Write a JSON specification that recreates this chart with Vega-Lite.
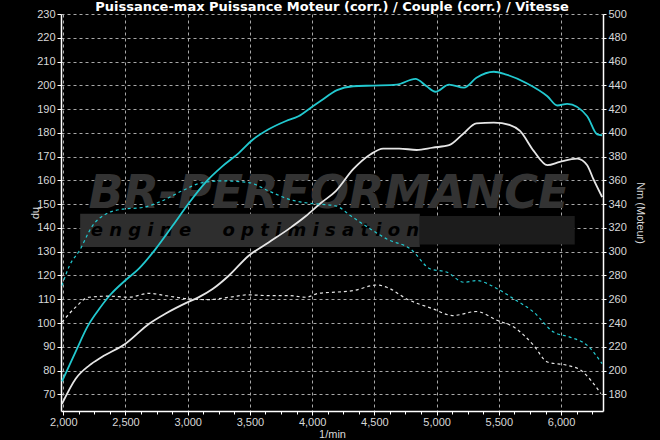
{
  "$schema": "https://vega.github.io/schema/vega-lite/v6.json",
  "width": 542,
  "height": 397,
  "autosize": {"type": "none"},
  "padding": {"left": 61, "top": 14, "right": 57, "bottom": 29},
  "background": "#000000",
  "title": {
    "text": "Puissance-max Puissance Moteur (corr.) / Couple (corr.) / Vitesse",
    "color": "#ffffff",
    "font": "DejaVu Sans",
    "fontSize": 13,
    "fontWeight": "bold",
    "anchor": "middle",
    "offset": -6
  },
  "config": {
    "view": {"stroke": null},
    "axis": {
      "labelColor": "#d8d8d8",
      "labelFont": "Liberation Sans",
      "labelFontSize": 11,
      "titleColor": "#d8d8d8",
      "titleFont": "Liberation Sans",
      "titleFontSize": 11,
      "titleFontWeight": "normal",
      "domainColor": "#ffffff",
      "domainWidth": 1.5,
      "tickColor": "#ffffff",
      "gridColor": "#a8a8a8",
      "gridDash": [3, 3],
      "gridWidth": 1
    }
  },
  "datasets": {
    "power": [
      {"rpm": 1990, "hp": 75.5, "run": "Puissance-max"},
      {"rpm": 2100, "hp": 88, "run": "Puissance-max"},
      {"rpm": 2200, "hp": 99, "run": "Puissance-max"},
      {"rpm": 2290, "hp": 106, "run": "Puissance-max"},
      {"rpm": 2380, "hp": 112, "run": "Puissance-max"},
      {"rpm": 2500, "hp": 118, "run": "Puissance-max"},
      {"rpm": 2610, "hp": 123, "run": "Puissance-max"},
      {"rpm": 2740, "hp": 131, "run": "Puissance-max"},
      {"rpm": 2880, "hp": 141, "run": "Puissance-max"},
      {"rpm": 3010, "hp": 150.5, "run": "Puissance-max"},
      {"rpm": 3140, "hp": 159, "run": "Puissance-max"},
      {"rpm": 3280, "hp": 166, "run": "Puissance-max"},
      {"rpm": 3410, "hp": 171.5, "run": "Puissance-max"},
      {"rpm": 3520, "hp": 177, "run": "Puissance-max"},
      {"rpm": 3650, "hp": 181.5, "run": "Puissance-max"},
      {"rpm": 3790, "hp": 185, "run": "Puissance-max"},
      {"rpm": 3890, "hp": 187, "run": "Puissance-max"},
      {"rpm": 4000, "hp": 191, "run": "Puissance-max"},
      {"rpm": 4070, "hp": 193.5, "run": "Puissance-max"},
      {"rpm": 4200, "hp": 198, "run": "Puissance-max"},
      {"rpm": 4330, "hp": 199.6, "run": "Puissance-max"},
      {"rpm": 4490, "hp": 199.9, "run": "Puissance-max"},
      {"rpm": 4680, "hp": 200.3, "run": "Puissance-max"},
      {"rpm": 4830, "hp": 202.7, "run": "Puissance-max"},
      {"rpm": 4920, "hp": 199.6, "run": "Puissance-max"},
      {"rpm": 4990, "hp": 197.3, "run": "Puissance-max"},
      {"rpm": 5100, "hp": 200.3, "run": "Puissance-max"},
      {"rpm": 5220, "hp": 199, "run": "Puissance-max"},
      {"rpm": 5320, "hp": 203.2, "run": "Puissance-max"},
      {"rpm": 5460, "hp": 205.7, "run": "Puissance-max"},
      {"rpm": 5560, "hp": 204.5, "run": "Puissance-max"},
      {"rpm": 5720, "hp": 201, "run": "Puissance-max"},
      {"rpm": 5890, "hp": 195.4, "run": "Puissance-max"},
      {"rpm": 5970, "hp": 191.5, "run": "Puissance-max"},
      {"rpm": 6050, "hp": 192.2, "run": "Puissance-max"},
      {"rpm": 6210, "hp": 187, "run": "Puissance-max"},
      {"rpm": 6290, "hp": 179.4, "run": "Puissance-max"},
      {"rpm": 6330, "hp": 179, "run": "Puissance-max"},
      {"rpm": 1990, "hp": 66, "run": "Puissance Moteur"},
      {"rpm": 2100, "hp": 76.6, "run": "Puissance Moteur"},
      {"rpm": 2210, "hp": 82.2, "run": "Puissance Moteur"},
      {"rpm": 2310, "hp": 85.7, "run": "Puissance Moteur"},
      {"rpm": 2500, "hp": 91.3, "run": "Puissance Moteur"},
      {"rpm": 2690, "hp": 99.7, "run": "Puissance Moteur"},
      {"rpm": 2820, "hp": 103.9, "run": "Puissance Moteur"},
      {"rpm": 3010, "hp": 109, "run": "Puissance Moteur"},
      {"rpm": 3090, "hp": 110.9, "run": "Puissance Moteur"},
      {"rpm": 3200, "hp": 114.3, "run": "Puissance Moteur"},
      {"rpm": 3330, "hp": 119.9, "run": "Puissance Moteur"},
      {"rpm": 3490, "hp": 128.3, "run": "Puissance Moteur"},
      {"rpm": 3650, "hp": 133.9, "run": "Puissance Moteur"},
      {"rpm": 3810, "hp": 139.5, "run": "Puissance Moteur"},
      {"rpm": 3950, "hp": 145, "run": "Puissance Moteur"},
      {"rpm": 4070, "hp": 150.5, "run": "Puissance Moteur"},
      {"rpm": 4190, "hp": 155.5, "run": "Puissance Moteur"},
      {"rpm": 4330, "hp": 164.7, "run": "Puissance Moteur"},
      {"rpm": 4470, "hp": 171, "run": "Puissance Moteur"},
      {"rpm": 4570, "hp": 173.4, "run": "Puissance Moteur"},
      {"rpm": 4700, "hp": 173.4, "run": "Puissance Moteur"},
      {"rpm": 4840, "hp": 172.8, "run": "Puissance Moteur"},
      {"rpm": 4970, "hp": 173.8, "run": "Puissance Moteur"},
      {"rpm": 5100, "hp": 174.8, "run": "Puissance Moteur"},
      {"rpm": 5210, "hp": 179.4, "run": "Puissance Moteur"},
      {"rpm": 5320, "hp": 184, "run": "Puissance Moteur"},
      {"rpm": 5460, "hp": 184.3, "run": "Puissance Moteur"},
      {"rpm": 5590, "hp": 183.3, "run": "Puissance Moteur"},
      {"rpm": 5670, "hp": 180.8, "run": "Puissance Moteur"},
      {"rpm": 5780, "hp": 172.4, "run": "Puissance Moteur"},
      {"rpm": 5890, "hp": 166.4, "run": "Puissance Moteur"},
      {"rpm": 5990, "hp": 167.8, "run": "Puissance Moteur"},
      {"rpm": 6130, "hp": 169.2, "run": "Puissance Moteur"},
      {"rpm": 6210, "hp": 166.4, "run": "Puissance Moteur"},
      {"rpm": 6260, "hp": 160.5, "run": "Puissance Moteur"},
      {"rpm": 6330, "hp": 153, "run": "Puissance Moteur"}
    ],
    "torque": [
      {"rpm": 1990, "nm": 271.5, "run": "Puissance-max"},
      {"rpm": 2050, "nm": 288.3, "run": "Puissance-max"},
      {"rpm": 2130, "nm": 300.9, "run": "Puissance-max"},
      {"rpm": 2235, "nm": 321.8, "run": "Puissance-max"},
      {"rpm": 2340, "nm": 331.6, "run": "Puissance-max"},
      {"rpm": 2475, "nm": 335.8, "run": "Puissance-max"},
      {"rpm": 2635, "nm": 337.2, "run": "Puissance-max"},
      {"rpm": 2795, "nm": 342.8, "run": "Puissance-max"},
      {"rpm": 2955, "nm": 351.2, "run": "Puissance-max"},
      {"rpm": 3120, "nm": 358.2, "run": "Puissance-max"},
      {"rpm": 3280, "nm": 359.6, "run": "Puissance-max"},
      {"rpm": 3490, "nm": 358.2, "run": "Puissance-max"},
      {"rpm": 3650, "nm": 351.2, "run": "Puissance-max"},
      {"rpm": 3810, "nm": 344.2, "run": "Puissance-max"},
      {"rpm": 3970, "nm": 340.9, "run": "Puissance-max"},
      {"rpm": 4070, "nm": 340, "run": "Puissance-max"},
      {"rpm": 4190, "nm": 338.6, "run": "Puissance-max"},
      {"rpm": 4310, "nm": 330.2, "run": "Puissance-max"},
      {"rpm": 4470, "nm": 319, "run": "Puissance-max"},
      {"rpm": 4600, "nm": 310.7, "run": "Puissance-max"},
      {"rpm": 4790, "nm": 302.3, "run": "Puissance-max"},
      {"rpm": 4950, "nm": 285.5, "run": "Puissance-max"},
      {"rpm": 5085, "nm": 282.7, "run": "Puissance-max"},
      {"rpm": 5220, "nm": 274.3, "run": "Puissance-max"},
      {"rpm": 5320, "nm": 275.7, "run": "Puissance-max"},
      {"rpm": 5490, "nm": 268.7, "run": "Puissance-max"},
      {"rpm": 5620, "nm": 260.3, "run": "Puissance-max"},
      {"rpm": 5780, "nm": 249.2, "run": "Puissance-max"},
      {"rpm": 5940, "nm": 232.4, "run": "Puissance-max"},
      {"rpm": 6070, "nm": 228.2, "run": "Puissance-max"},
      {"rpm": 6210, "nm": 221.2, "run": "Puissance-max"},
      {"rpm": 6330, "nm": 205.8, "run": "Puissance-max"},
      {"rpm": 1990, "nm": 240.8, "run": "Puissance Moteur"},
      {"rpm": 2100, "nm": 253.4, "run": "Puissance Moteur"},
      {"rpm": 2205, "nm": 261.7, "run": "Puissance Moteur"},
      {"rpm": 2365, "nm": 262.6, "run": "Puissance Moteur"},
      {"rpm": 2525, "nm": 261.7, "run": "Puissance Moteur"},
      {"rpm": 2690, "nm": 265, "run": "Puissance Moteur"},
      {"rpm": 2820, "nm": 263.1, "run": "Puissance Moteur"},
      {"rpm": 3010, "nm": 260.3, "run": "Puissance Moteur"},
      {"rpm": 3170, "nm": 259.7, "run": "Puissance Moteur"},
      {"rpm": 3330, "nm": 261.7, "run": "Puissance Moteur"},
      {"rpm": 3490, "nm": 263.7, "run": "Puissance Moteur"},
      {"rpm": 3650, "nm": 263.1, "run": "Puissance Moteur"},
      {"rpm": 3810, "nm": 263.1, "run": "Puissance Moteur"},
      {"rpm": 3950, "nm": 261.7, "run": "Puissance Moteur"},
      {"rpm": 4050, "nm": 265, "run": "Puissance Moteur"},
      {"rpm": 4190, "nm": 266, "run": "Puissance Moteur"},
      {"rpm": 4330, "nm": 267.3, "run": "Puissance Moteur"},
      {"rpm": 4520, "nm": 272, "run": "Puissance Moteur"},
      {"rpm": 4600, "nm": 270.1, "run": "Puissance Moteur"},
      {"rpm": 4760, "nm": 260.3, "run": "Puissance Moteur"},
      {"rpm": 4970, "nm": 252, "run": "Puissance Moteur"},
      {"rpm": 5130, "nm": 246.3, "run": "Puissance Moteur"},
      {"rpm": 5320, "nm": 249.7, "run": "Puissance Moteur"},
      {"rpm": 5490, "nm": 242.1, "run": "Puissance Moteur"},
      {"rpm": 5620, "nm": 236.6, "run": "Puissance Moteur"},
      {"rpm": 5780, "nm": 221.2, "run": "Puissance Moteur"},
      {"rpm": 5890, "nm": 207.2, "run": "Puissance Moteur"},
      {"rpm": 6050, "nm": 204.4, "run": "Puissance Moteur"},
      {"rpm": 6160, "nm": 200.2, "run": "Puissance Moteur"},
      {"rpm": 6240, "nm": 191.8, "run": "Puissance Moteur"},
      {"rpm": 6320, "nm": 180.6, "run": "Puissance Moteur"}
    ]
  },
  "layer": [
    {
      "layer": [
        {
          "data": {"values": [{}]},
          "mark": {"type": "rect", "color": "#2e2e2e"},
          "encoding": {
            "x": {"datum": 2136, "type": "quantitative", "scale": {"domain": [1982, 6337], "nice": false, "zero": false}, "axis": {"orient": "bottom", "values": [2000, 2500, 3000, 3500, 4000, 4500, 5000, 5500, 6000], "format": ",.0f", "title": "1/min", "tickSize": 4, "labelPadding": 1, "titlePadding": 1, "grid": true, "labelFlush": false}},
            "x2": {"datum": 4865},
            "y": {"datum": 132, "type": "quantitative", "scale": {"domain": [63, 230], "nice": false, "zero": false}, "axis": {"values": [70, 80, 90, 100, 110, 120, 130, 140, 150, 160, 170, 180, 190, 200, 210, 220, 230], "title": "hp", "titleAngle": 90, "titlePadding": 6, "tickSize": 4, "labelPadding": 2, "grid": true, "labelFlush": false, "labelOverlap": false}},
            "y2": {"datum": 146}
          }
        },
        {
          "data": {"values": [{}]},
          "mark": {"type": "rect", "color": "#1c1c1c"},
          "encoding": {
            "x": {"datum": 4865, "type": "quantitative", "scale": {"domain": [1982, 6337], "nice": false, "zero": false}, "axis": {"orient": "bottom", "values": [2000, 2500, 3000, 3500, 4000, 4500, 5000, 5500, 6000], "format": ",.0f", "title": "1/min", "tickSize": 4, "labelPadding": 1, "titlePadding": 1, "grid": true, "labelFlush": false}},
            "x2": {"datum": 6110},
            "y": {"datum": 133, "type": "quantitative", "scale": {"domain": [63, 230], "nice": false, "zero": false}, "axis": {"values": [70, 80, 90, 100, 110, 120, 130, 140, 150, 160, 170, 180, 190, 200, 210, 220, 230], "title": "hp", "titleAngle": 90, "titlePadding": 6, "tickSize": 4, "labelPadding": 2, "grid": true, "labelFlush": false, "labelOverlap": false}},
            "y2": {"datum": 145}
          }
        },
        {
          "data": {"values": [{"label": "BR-PERFORMANCE"}]},
          "mark": {"type": "text", "font": "DejaVu Sans", "fontSize": 46, "fontWeight": "bold", "fontStyle": "italic", "color": "#333333", "align": "center", "baseline": "middle"},
          "encoding": {
            "text": {"field": "label"},
            "x": {"datum": 4135, "type": "quantitative", "scale": {"domain": [1982, 6337], "nice": false, "zero": false}, "axis": {"orient": "bottom", "values": [2000, 2500, 3000, 3500, 4000, 4500, 5000, 5500, 6000], "format": ",.0f", "title": "1/min", "tickSize": 4, "labelPadding": 1, "titlePadding": 1, "grid": true, "labelFlush": false}},
            "y": {"datum": 154.2, "type": "quantitative", "scale": {"domain": [63, 230], "nice": false, "zero": false}, "axis": {"values": [70, 80, 90, 100, 110, 120, 130, 140, 150, 160, 170, 180, 190, 200, 210, 220, 230], "title": "hp", "titleAngle": 90, "titlePadding": 6, "tickSize": 4, "labelPadding": 2, "grid": true, "labelFlush": false, "labelOverlap": false}}
          }
        },
        {
          "data": {"values": [{"label": "e n g i n e \u00a0 \u00a0 o p t i m i s a t i o n"}]},
          "mark": {"type": "text", "font": "DejaVu Sans", "fontSize": 18, "fontWeight": "bold", "fontStyle": "italic", "color": "#000000", "align": "center", "baseline": "middle"},
          "encoding": {
            "text": {"field": "label"},
            "x": {"datum": 3540, "type": "quantitative", "scale": {"domain": [1982, 6337], "nice": false, "zero": false}, "axis": {"orient": "bottom", "values": [2000, 2500, 3000, 3500, 4000, 4500, 5000, 5500, 6000], "format": ",.0f", "title": "1/min", "tickSize": 4, "labelPadding": 1, "titlePadding": 1, "grid": true, "labelFlush": false}},
            "y": {"datum": 138.6, "type": "quantitative", "scale": {"domain": [63, 230], "nice": false, "zero": false}, "axis": {"values": [70, 80, 90, 100, 110, 120, 130, 140, 150, 160, 170, 180, 190, 200, 210, 220, 230], "title": "hp", "titleAngle": 90, "titlePadding": 6, "tickSize": 4, "labelPadding": 2, "grid": true, "labelFlush": false, "labelOverlap": false}}
          }
        },
        {
          "data": {"name": "power"},
          "mark": {"type": "line", "strokeWidth": 1.8, "interpolate": "monotone", "clip": true},
          "encoding": {
            "x": {"field": "rpm", "type": "quantitative", "scale": {"domain": [1982, 6337], "nice": false, "zero": false}, "axis": {"orient": "bottom", "values": [2000, 2500, 3000, 3500, 4000, 4500, 5000, 5500, 6000], "format": ",.0f", "title": "1/min", "tickSize": 4, "labelPadding": 1, "titlePadding": 1, "grid": true, "labelFlush": false}},
            "y": {"field": "hp", "type": "quantitative", "scale": {"domain": [63, 230], "nice": false, "zero": false}, "axis": {"values": [70, 80, 90, 100, 110, 120, 130, 140, 150, 160, 170, 180, 190, 200, 210, 220, 230], "title": "hp", "titleAngle": 90, "titlePadding": 6, "tickSize": 4, "labelPadding": 2, "grid": true, "labelFlush": false, "labelOverlap": false}},
            "color": {
              "field": "run",
              "type": "nominal",
              "scale": {"domain": ["Puissance-max", "Puissance Moteur"], "range": ["#22c9d0", "#e6e6e6"]},
              "legend": null
            }
          }
        }
      ]
    },
    {
      "data": {"name": "torque"},
      "mark": {"type": "line", "strokeWidth": 1.2, "strokeDash": [3, 3], "interpolate": "monotone", "clip": true},
      "encoding": {
        "x": {
          "field": "rpm",
          "type": "quantitative",
          "scale": {"domain": [1982, 6337], "nice": false, "zero": false},
          "axis": {
            "orient": "bottom",
            "values": [2125, 2250, 2375, 2625, 2750, 2875, 3125, 3250, 3375, 3625, 3750, 3875, 4125, 4250, 4375, 4625, 4750, 4875, 5125, 5250, 5375, 5625, 5750, 5875, 6125, 6250],
            "labels": false,
            "title": null,
            "domain": false,
            "grid": false,
            "tickSize": 3
          }
        },
        "y": {
          "field": "nm",
          "type": "quantitative",
          "scale": {"domain": [166, 500], "nice": false, "zero": false},
          "axis": {
            "orient": "right",
            "values": [180, 200, 220, 240, 260, 280, 300, 320, 340, 360, 380, 400, 420, 440, 460, 480, 500],
            "title": "Nm (Moteur)",
            "titleAngle": 90,
            "titlePadding": 8,
            "tickSize": 3,
            "labelPadding": 2,
            "grid": false,
            "labelFlush": false,
            "labelOverlap": false
          }
        },
        "color": {"field": "run", "type": "nominal", "legend": null}
      }
    }
  ],
  "resolve": {"scale": {"y": "independent"}, "axis": {"x": "independent"}}
}
